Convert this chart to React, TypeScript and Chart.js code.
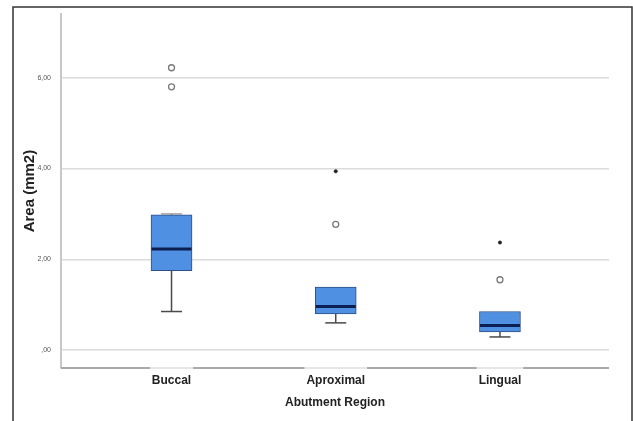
import React, { useEffect, useRef } from 'react';
import { Chart, registerables } from 'chart.js';

Chart.register(...registerables);

const categories = ['Buccal', 'Aproximal', 'Lingual'];
const whiskerLow = [0.85, 0.6, 0.29];
const q1 = [1.75, 0.8, 0.4];
const median = [2.23, 0.96, 0.54];
const q3 = [2.98, 1.39, 0.85];
const whiskerHigh = [3.0, 1.39, 0.85];
const outlierCircles = [[6.22, 5.8], [2.77], [1.55]];
const outlierStars = [[], [3.94], [2.37]];
const yTicks = [0, 2, 4, 6];
const yTickLabels = [',00', '2,00', '4,00', '6,00'];

const REG = "'Liberation Sans', Arial, sans-serif";
const LABEL_FONT = "bold 12px 'Liberation Sans', Arial, sans-serif";

const BOX_W = 41;

const boxPlugin = {
  id: 'boxExtras',
  beforeDatasetsDraw(chart: any) {
    const { ctx, scales, chartArea } = chart;
    const xs = scales.x;
    const ys = scales.y;
    ctx.save();
    // x axis line with light gaps under labels
    const yb = chartArea.bottom;
    ctx.lineWidth = 2;
    ctx.strokeStyle = '#a9a9a9';
    ctx.beginPath();
    ctx.moveTo(chartArea.left, yb);
    ctx.lineTo(chartArea.right, yb);
    ctx.stroke();
    ctx.font = LABEL_FONT;
    ctx.strokeStyle = '#e6e6e6';
    categories.forEach((c, i) => {
      const x = xs.getPixelForValue(i);
      const hw = ctx.measureText(c).width / 2 + 2;
      ctx.beginPath();
      ctx.moveTo(x - hw, yb);
      ctx.lineTo(x + hw, yb);
      ctx.stroke();
    });
    // whiskers
    ctx.strokeStyle = '#4a4a4a';
    ctx.lineWidth = 1.5;
    categories.forEach((c, i) => {
      const x = xs.getPixelForValue(i);
      ctx.beginPath();
      ctx.moveTo(x, ys.getPixelForValue(whiskerLow[i]));
      ctx.lineTo(x, ys.getPixelForValue(q1[i]));
      ctx.moveTo(x, ys.getPixelForValue(q3[i]));
      ctx.lineTo(x, ys.getPixelForValue(whiskerHigh[i]));
      ctx.stroke();
      ctx.beginPath();
      const yl = ys.getPixelForValue(whiskerLow[i]);
      ctx.moveTo(x - 10.5, yl);
      ctx.lineTo(x + 10.5, yl);
      ctx.stroke();
    });
    ctx.restore();
  },
  afterDatasetsDraw(chart: any) {
    const { ctx, scales } = chart;
    const xs = scales.x;
    const ys = scales.y;
    ctx.save();
    // top caps
    ctx.strokeStyle = '#8a8a8a';
    ctx.lineWidth = 1.2;
    categories.forEach((c, i) => {
      if (whiskerHigh[i] > q3[i]) {
        const x = xs.getPixelForValue(i);
        const yh = ys.getPixelForValue(whiskerHigh[i]);
        ctx.beginPath();
        ctx.moveTo(x - 10.5, yh);
        ctx.lineTo(x + 10.5, yh);
        ctx.stroke();
      }
    });
    // medians
    ctx.strokeStyle = '#0c1f52';
    ctx.lineWidth = 3;
    categories.forEach((c, i) => {
      const x = xs.getPixelForValue(i);
      const y = ys.getPixelForValue(median[i]);
      ctx.beginPath();
      ctx.moveTo(x - BOX_W / 2 + 0.5, y);
      ctx.lineTo(x + BOX_W / 2 - 0.5, y);
      ctx.stroke();
    });
    ctx.restore();
  },
  afterDraw(chart: any) {
    const { ctx } = chart;
    ctx.save();
    ctx.strokeStyle = '#333';
    ctx.lineWidth = 1.5;
    ctx.beginPath();
    ctx.moveTo(13, 421);
    ctx.lineTo(13, 7);
    ctx.lineTo(632, 7);
    ctx.lineTo(632, 421);
    ctx.stroke();
    ctx.restore();
  },
};

export default function App() {
  const ref = useRef<HTMLCanvasElement | null>(null);
  useEffect(() => {
    document.body.style.margin = '0';
    if (!ref.current) return;
    const circlePts: { x: number; y: number }[] = [];
    const starPts: { x: number; y: number }[] = [];
    outlierCircles.forEach((arr, i) => arr.forEach((v) => circlePts.push({ x: i, y: v })));
    outlierStars.forEach((arr, i) => arr.forEach((v) => starPts.push({ x: i, y: v })));
    const chart = new Chart(ref.current, {
      type: 'bar',
      data: {
        datasets: [
          {
            type: 'bar',
            data: categories.map((c, i) => ({ x: i, y: [q1[i], q3[i]] })) as any,
            backgroundColor: '#5090e2',
            borderColor: '#2d4f86',
            borderWidth: 1,
            borderSkipped: false,
            barThickness: BOX_W,
            order: 2,
          } as any,
          {
            type: 'scatter',
            data: circlePts as any,
            pointStyle: 'circle',
            pointRadius: 3,
            borderColor: '#7a7a7a',
            borderWidth: 1.3,
            backgroundColor: '#ffffff',
            order: 1,
          } as any,
          {
            type: 'scatter',
            data: starPts as any,
            pointStyle: 'circle',
            pointRadius: 1.7,
            borderColor: '#222',
            borderWidth: 0.5,
            backgroundColor: '#222',
            order: 1,
          } as any,
        ],
      },
      options: {
        responsive: false,
        animation: false,
        devicePixelRatio: 1,
        layout: { padding: { left: 0, right: 24, top: 12, bottom: 0 } },
        plugins: { legend: { display: false }, tooltip: { enabled: false } },
        scales: {
          x: {
            type: 'linear',
            offset: false,
            min: -0.673,
            max: 2.664,
            afterBuildTicks: (s: any) => {
              s.ticks = categories.map((c, i) => ({ value: i }));
            },
            afterFit: (s: any) => {
              s.height = 53;
            },
            ticks: {
              callback: (v: any) => categories[v as number] ?? '',
              font: { family: REG, size: 12, weight: 'bold' },
              color: '#222',
              padding: 5,
              autoSkip: false,
              maxRotation: 0,
            },
            grid: { display: false, drawTicks: false },
            border: { display: false },
            title: {
              display: true,
              text: 'Abutment Region',
              font: { family: REG, size: 12, weight: 'bold' },
              color: '#222',
              padding: { top: 0, bottom: 11 },
            },
          },
          y: {
            type: 'linear',
            min: -0.394,
            max: 7.4,
            afterBuildTicks: (s: any) => {
              s.ticks = yTicks.map((v) => ({ value: v }));
            },
            afterFit: (s: any) => {
              s.width = 61;
            },
            ticks: {
              callback: (v: any) => yTickLabels[yTicks.indexOf(v as number)] ?? '',
              font: { family: REG, size: 7 },
              color: '#555',
              padding: 10,
            },
            grid: { color: '#dcdcdc', lineWidth: 1.5, drawTicks: false },
            border: { display: true, color: '#c8c8c8', width: 2 },
            title: {
              display: true,
              text: 'Area (mm2)',
              font: { family: REG, size: 15, weight: 'bold' },
              color: '#222',
              padding: { top: 21, bottom: 0 },
            },
          },
        },
      },
      plugins: [boxPlugin],
    } as any);
    return () => chart.destroy();
  }, []);
  return (
    <div style={{ width: 633, height: 421, background: '#fff' }}>
      <canvas ref={ref} width={633} height={421} />
    </div>
  );
}
